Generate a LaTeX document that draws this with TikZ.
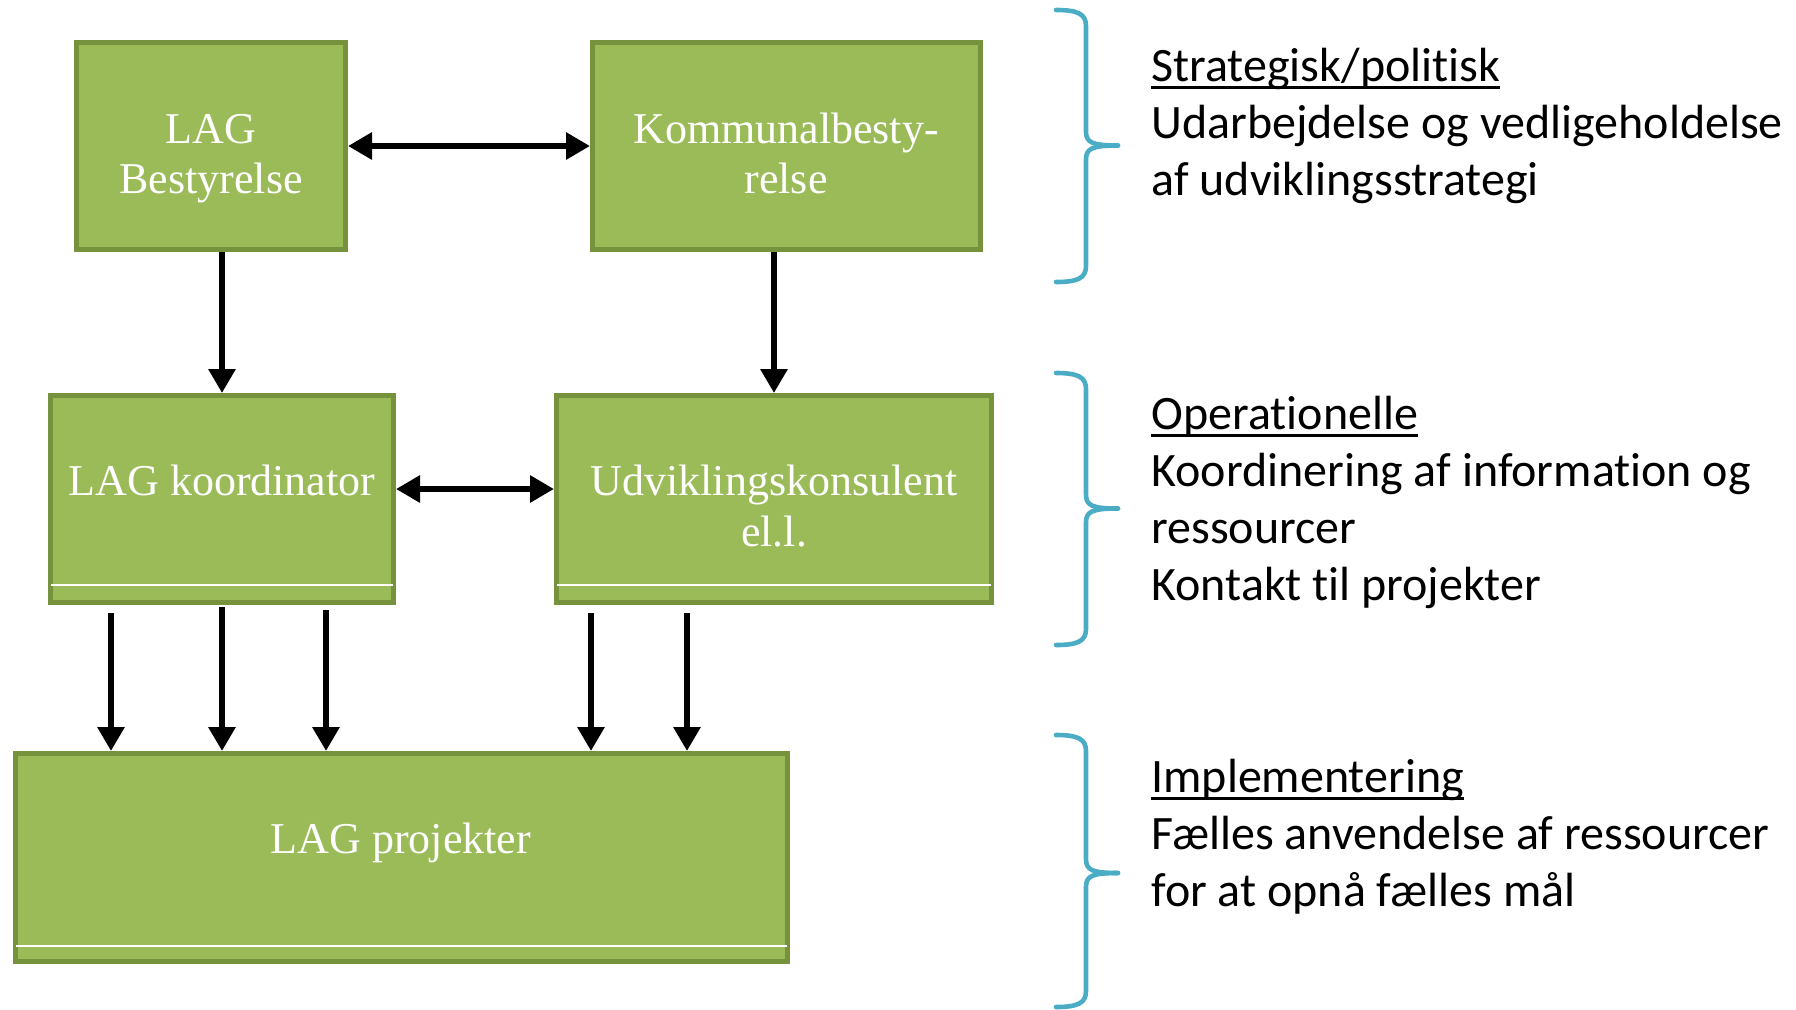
\documentclass[tikz,border=0pt]{standalone}
\usepackage{fontspec}
\setmainfont{Liberation Serif}
\newfontfamily\carl[Ligatures=NoCommon]{Carlito}
\usetikzlibrary{arrows.meta,calc}
\definecolor{boxfill}{HTML}{9BBB59}
\definecolor{boxline}{HTML}{76923C}
\definecolor{bracecol}{HTML}{4BACC6}
\newcommand\ulx[1]{\setbox0=\hbox{#1}\rlap{\rule[-3.8pt]{\wd0}{1.5pt}}\box0}
\begin{document}
\begin{tikzpicture}[x=0.5pt,y=-0.5pt,
 box/.style={draw=boxline, fill=boxfill, line width=2.3pt, inner sep=0pt},
 btxt/.style={text=white, font=\fontsize{22pt}{25pt}\selectfont, inner sep=0pt, anchor=base},
 rtxt/.style={font=\carl\fontsize{24pt}{28.5pt}\selectfont, inner sep=0pt, anchor=base west},
 arr/.style={line width=3.3pt, -{Triangle[length=12pt,width=13pt]}},
 darr/.style={line width=3.3pt, {Triangle[length=12pt,width=13pt]}-{Triangle[length=12pt,width=13pt]}},
 sep/.style={draw=white, line width=0.8pt},
 brc/.style={draw=bracecol, line width=2.3pt, line cap=round, line join=round}]
\useasboundingbox (0,0) rectangle (1796,1009);

% boxes
\node[box, minimum width=134.7pt, minimum height=103.7pt] (lagb) at (211,146) {};
\node[box, minimum width=194.2pt, minimum height=103.7pt] (komm) at (786.5,146) {};
\node[box, minimum width=171.7pt, minimum height=103.7pt] (lagk) at (222,499) {};
\node[box, minimum width=217.7pt, minimum height=103.7pt] (udv) at (774,499) {};
\node[box, minimum width=386.2pt, minimum height=104.2pt] (proj) at (401.5,857.5) {};

% white separator lines
\draw[sep] ($(lagk.south west)+(3,-20)$) -- ($(lagk.south east)+(-3,-20)$);
\draw[sep] ($(udv.south west)+(3,-20)$) -- ($(udv.south east)+(-3,-20)$);
\draw[sep] ($(proj.south west)+(3,-18)$) -- ($(proj.south east)+(-3,-18)$);

% box texts
\node[btxt] (tlagb1) at (211,143) {LAG};
\node[btxt] (tlagb2) at (211,193) {Bestyrelse};
\node[btxt] (tkomm1) at (786,143) {Kommunalbesty-};
\node[btxt] (tkomm2) at (786,193) {relse};
\node[btxt] (tlagk) at (222,495) {LAG koordinator};
\node[btxt] (tudv1) at (774,495) {Udviklingskonsulent};
\node[btxt] (tudv2) at (774,546) {el.l.};
\node[btxt] (tproj) at (401,853) {LAG projekter};

% connectors
\draw[darr] (lagb.east) -- (komm.west);
\draw[darr] ($(lagk.east)+(0,-10)$) -- ($(udv.west)+(0,-10)$);
\draw[arr] (lagb.south -| lagk.north) -- (lagk.north);
\draw[arr] (komm.south -| udv.north) -- (udv.north);
\foreach \x/\d in {111/8,222/2,326/5} {
  \draw[arr] ($(lagk.south -| \x,0)+(0,\d)$) -- (proj.north -| \x,0);
}
\foreach \x/\d in {591/8,687/8} {
  \draw[arr] ($(udv.south -| \x,0)+(0,\d)$) -- (proj.north -| \x,0);
}

% braces
\foreach \T/\M/\B in {10/145.5/282, 373/508.5/645, 735/873/1007} {
  \draw[brc] (1056,\T) .. controls (1078,\T) and (1086,\T+4) .. (1086,\T+16) -- (1086,\M-14) .. controls (1086,\M-3) and (1092,\M) .. (1118,\M);
  \draw[brc] (1118,\M) .. controls (1092,\M) and (1086,\M+3) .. (1086,\M+14) -- (1086,\B-16) .. controls (1086,\B-4) and (1078,\B) .. (1056,\B);
}

% right-hand texts
\node[rtxt] (s1) at (1151,81) {\ulx{Strategisk/politisk}};
\node[rtxt] (s2) at (1151,138) {Udarbejdelse og vedligeholdelse};
\node[rtxt] (s3) at (1151,195) {af udviklingsstrategi};
\node[rtxt] (o1) at (1151,429) {\ulx{Operationelle}};
\node[rtxt] (o2) at (1151,486) {Koordinering af information og};
\node[rtxt] (o3) at (1151,543) {ressourcer};
\node[rtxt] (o4) at (1151,600) {Kontakt til projekter};
\node[rtxt] (i1) at (1151,792) {\ulx{Implementering}};
\node[rtxt] (i2) at (1151,849) {Fælles anvendelse af ressourcer};
\node[rtxt] (i3) at (1151,906) {for at opnå fælles mål};
\end{tikzpicture}
\end{document}
